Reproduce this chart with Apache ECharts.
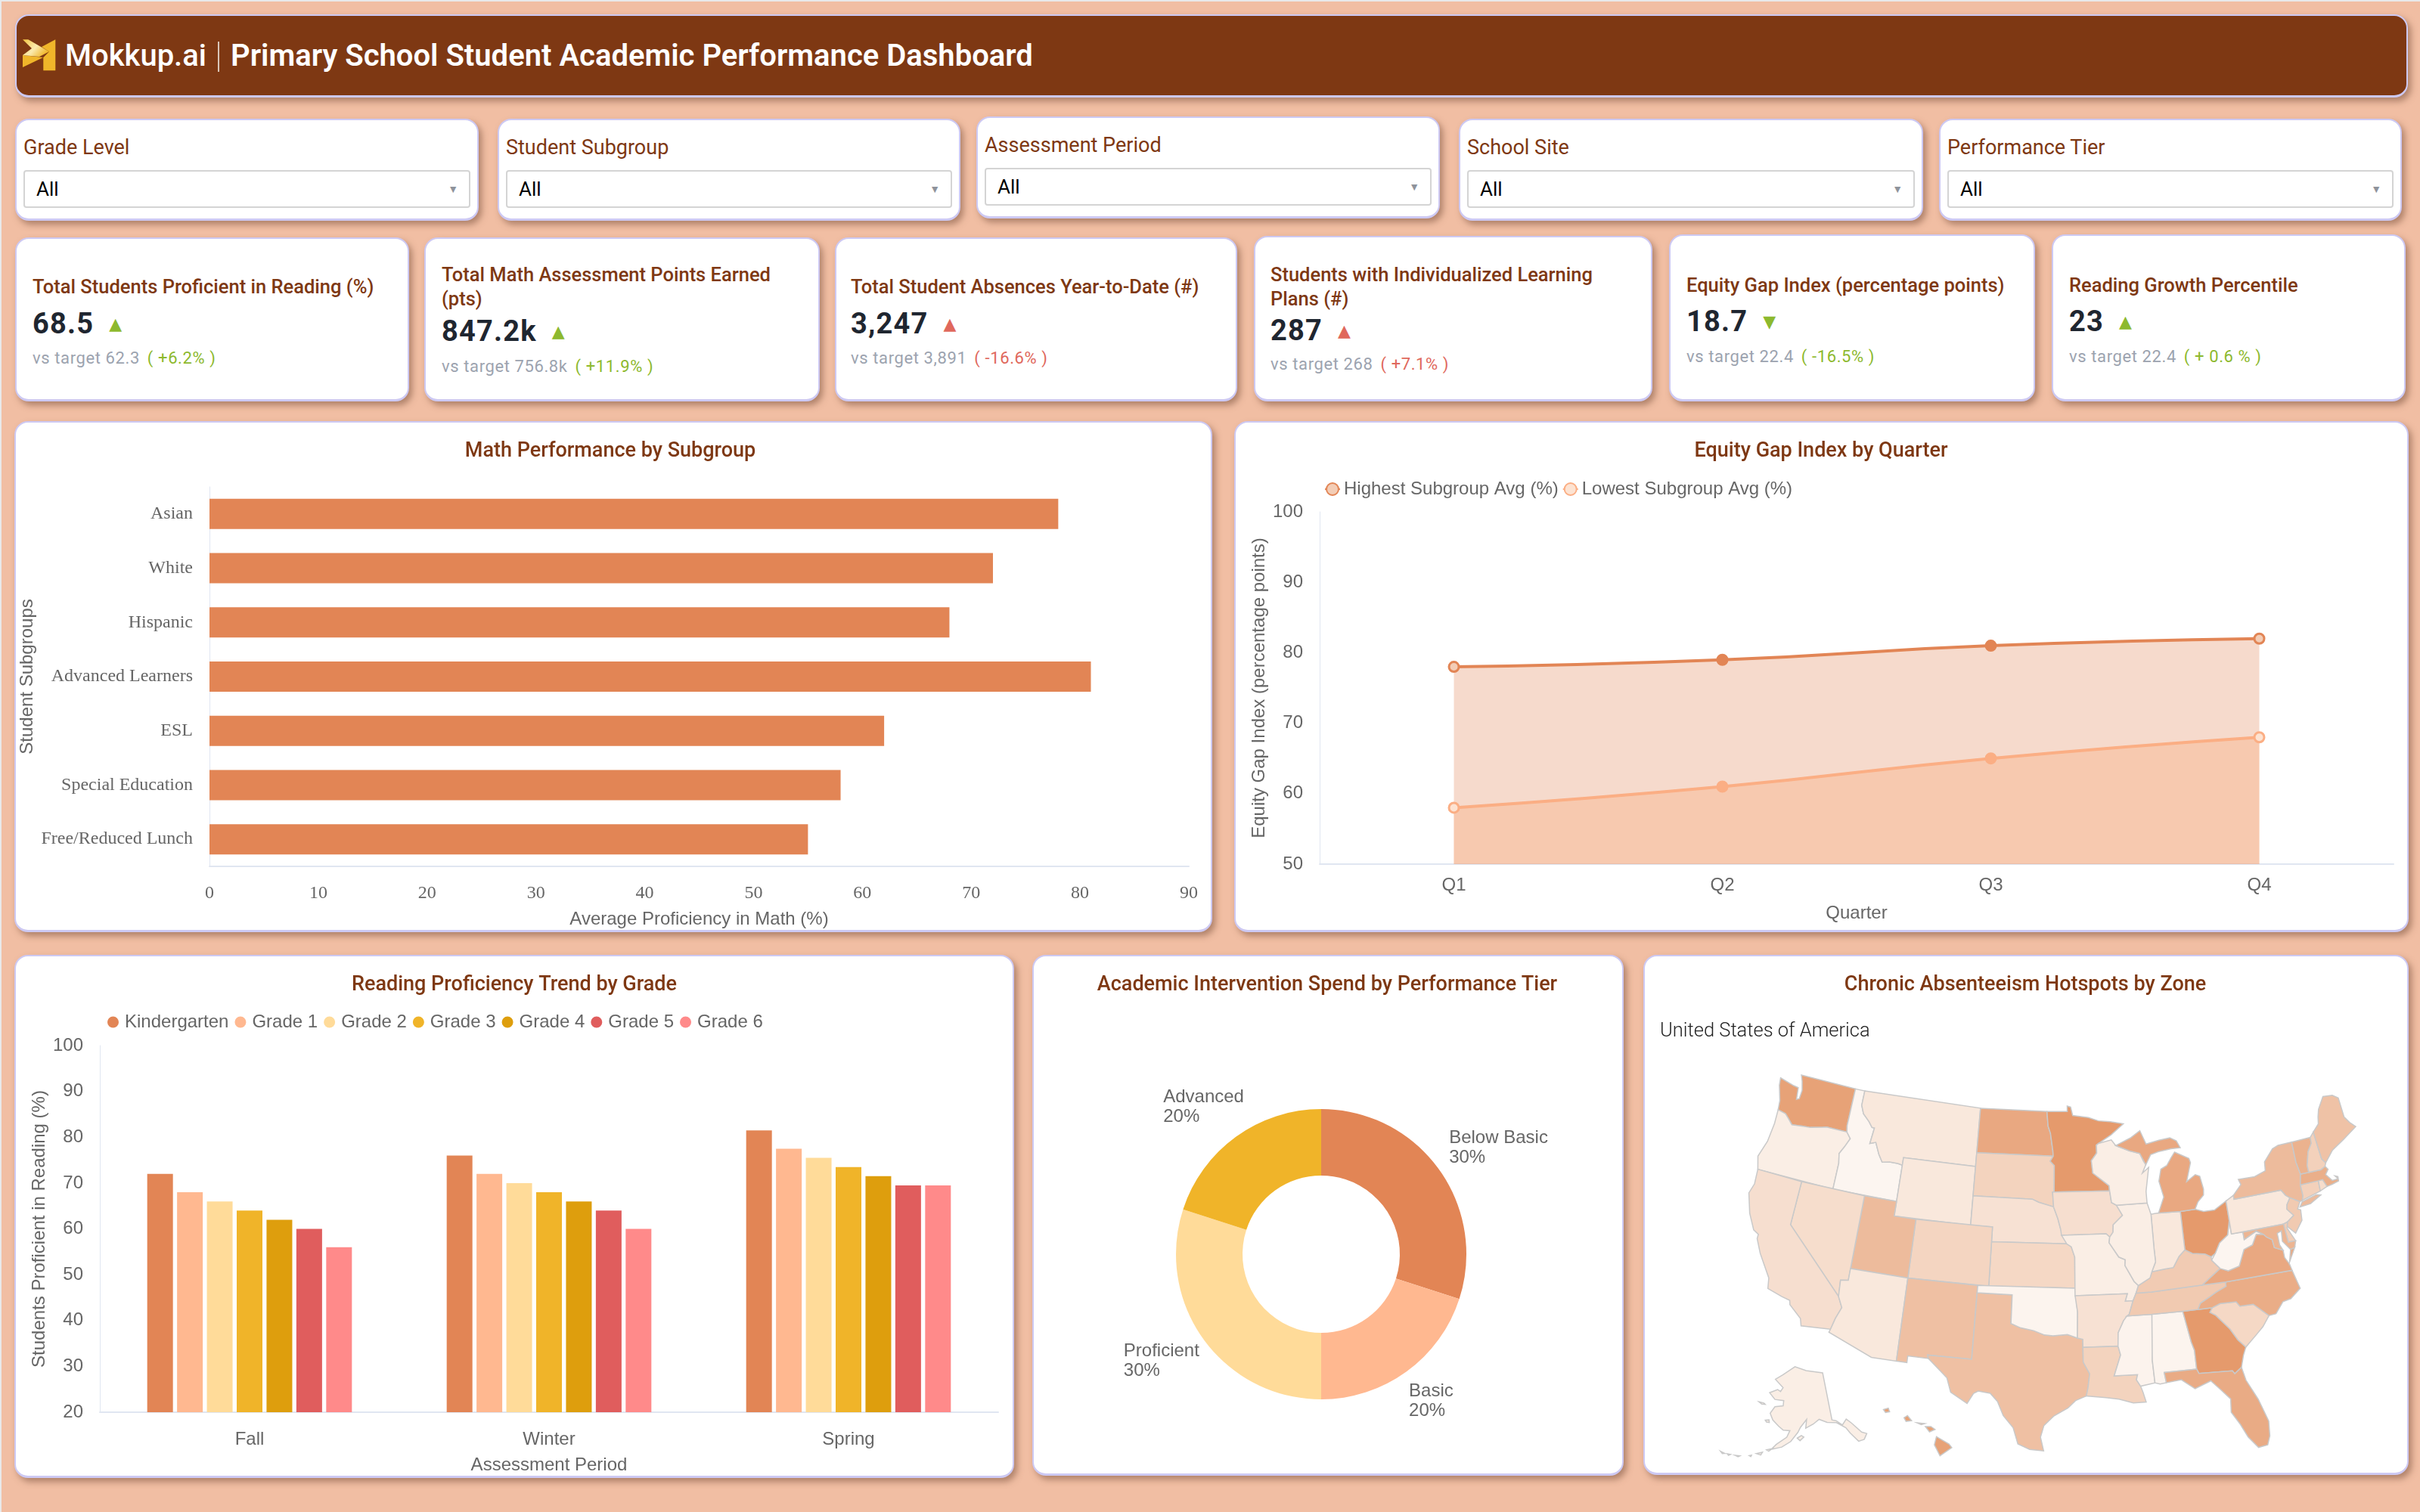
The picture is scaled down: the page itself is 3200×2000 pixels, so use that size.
<!DOCTYPE html>
<html>
<head>
<meta charset="utf-8">
<title>Primary School Student Academic Performance Dashboard</title>
<script src="https://cdn.jsdelivr.net/npm/echarts@6/dist/echarts.min.js"></script>
<style>
    html, body { margin: 0; padding: 0; }
    body { width: 3200px; height: 2000px; position: relative; overflow: hidden; background: #F1BEA3; box-shadow: inset 2px 2px 0 #E9E9E9; font-family: Roboto, Arial, sans-serif; }
    .card { position: absolute; box-sizing: border-box; background: #fff; border: 2px solid #CDC9F3; border-bottom-width: 3px; border-radius: 18px; box-shadow: 4px 5px 9px rgba(110, 70, 50, .5); }
    .chart { position: absolute; left: 0; top: 0; width: 100%; height: 100%; }
    #header { left: 20px; top: 19px; width: 3164px; height: 110px; background: #7E3813; }
    #logo { position: absolute; left: 8px; top: 31px; }
    #brand { position: absolute; left: 64px; top: 29px; font-size: 40px; line-height: 48px; font-weight: 500; color: #fff; }
    #divider { position: absolute; left: 266px; top: 34px; width: 2px; height: 40px; background: #D9C6B8; }
    #title { position: absolute; left: 283px; top: 29px; font-size: 40px; line-height: 48px; font-weight: 600; color: #fff; white-space: nowrap; }
    .filter-label { position: absolute; left: 9px; top: 19px; font-size: 27px; line-height: 34px; color: #7E3813; }
    .select { position: absolute; left: 9px; right: 9px; top: 66px; height: 50px; box-sizing: border-box; border: 2px solid #D4D4D4; border-radius: 4px; font-size: 26px; line-height: 46px; padding-left: 15px; color: #000; }
    .select i { position: absolute; right: 14px; top: 0; font-style: normal; font-size: 14px; color: #8E939B; }
    .kpi-title { position: absolute; font-size: 25.5px; line-height: 32px; font-weight: 500; color: #7E3813; }
    .kpi-value { position: absolute; font-size: 38px; line-height: 44px; font-weight: 700; letter-spacing: 1.2px; color: #1F2630; white-space: nowrap; }
    .kpi-value b { font-family: "DejaVu Sans"; font-size: 22px; font-weight: 400; letter-spacing: 0; margin-left: 20px; position: relative; top: -5px; }
    .kpi-target { position: absolute; font-size: 22px; line-height: 28px; letter-spacing: .6px; color: #9CA3AF; white-space: nowrap; }
    .kpi-target span { margin-left: 10px; font-weight: 400; }
    .good { color: #8DB92E; }
    .bad { color: #E0685C; }
    #map-name { position: absolute; left: 20px; top: 80px; font-size: 25.5px; line-height: 34px; font-weight: 300; color: #222; }
</style>
</head>
<body>
<div class="card" id="header">
    <svg id="logo" width="44" height="42" viewBox="0 0 44 42">
        <defs>
            <linearGradient id="logoShine" x1="0" y1="0" x2="1" y2="0.6">
                <stop offset="0" stop-color="#F2C33F"/>
                <stop offset="0.55" stop-color="#FBEBAF"/>
                <stop offset="1" stop-color="#F0B62A"/>
            </linearGradient>
        </defs>
        <polygon points="43.3,0.3 43.3,41.3 27.3,41.3 27.3,24 35,16.3 25,10" fill="#F0B62A"/>
        <polygon points="0,21 27,24 0,37" fill="#F0B62A"/>
        <polygon points="0,0.3 7.3,0.3 35,16.3 22,23 0,21 12,12" fill="url(#logoShine)"/>
    </svg>
    <div id="brand">Mokkup.ai</div>
    <div id="divider"></div>
    <div id="title">Primary School Student Academic Performance Dashboard</div>
</div>
<div id="filters"></div>
<div id="kpis"></div>
<div class="card" style="left:19px;top:557px;width:1584px;height:676px"><div class="chart" id="chart_math"></div></div>
<div class="card" style="left:1632px;top:557px;width:1553px;height:676px"><div class="chart" id="chart_equity"></div></div>
<div class="card" style="left:19px;top:1263px;width:1322px;height:692px"><div class="chart" id="chart_reading"></div></div>
<div class="card" style="left:1365px;top:1263px;width:782px;height:689px"><div class="chart" id="chart_spend"></div></div>
<div class="card" style="left:2173px;top:1263px;width:1012px;height:688px"><div class="chart" id="chart_map"></div><div id="map-name">United States of America</div></div>

<script>
// filters and kpi text
var filterNames = ['Grade Level', 'Student Subgroup', 'Assessment Period', 'School Site', 'Performance Tier'];
var kpiTitles = ['Total Students Proficient in Reading (%)', 'Total Math Assessment Points Earned (pts)', 'Total Student Absences Year-to-Date (#)',
    'Students with Individualized Learning Plans (#)', 'Equity Gap Index (percentage points)', 'Reading Growth Percentile'];
var kpiValues = ['68.5', '847.2k', '3,247', '287', '18.7', '23'];
var kpiArrows = ['▲', '▲', '▲', '▲', '▼', '▲'];
var kpiTargets = ['62.3', '756.8k', '3,891', '268', '22.4', '22.4'];
var kpiDeltas = ['( +6.2% )', '( +11.9% )', '( -16.6% )', '( +7.1% )', '( -16.5% )', '( + 0.6 % )'];
var kpiTones = ['good', 'good', 'bad', 'bad', 'good', 'good'];

// math chart
var subgroups = ['Asian', 'White', 'Hispanic', 'Advanced Learners', 'ESL', 'Special Education', 'Free/Reduced Lunch'];
var mathScores = [78, 72, 68, 81, 62, 58, 55];

// equity chart
var quarters = ['Q1', 'Q2', 'Q3', 'Q4'];
var highestAvg = [78, 79, 81, 82];
var lowestAvg = [58, 61, 65, 68];

// reading chart
var periods = ['Fall', 'Winter', 'Spring'];
var grades = ['Kindergarten', 'Grade 1', 'Grade 2', 'Grade 3', 'Grade 4', 'Grade 5', 'Grade 6'];
var readingScores = [
    [72, 76, 81.5],
    [68, 72, 77.5],
    [66, 70, 75.5],
    [64, 68, 73.5],
    [62, 66, 71.5],
    [60, 64, 69.5],
    [56, 60, 69.5]
];
var gradeColors = ['#E28555', '#FFB890', '#FFDB99', '#F0B429', '#DE9E0D', '#E05D5D', '#FF8A8A'];

// spend chart
var tiers = ['Below Basic', 'Basic', 'Proficient', 'Advanced'];
var tierSpend = [30, 20, 30, 20];

// map values, read from the shade of each state
var stateNames = ['Alabama', 'Alaska', 'Arizona', 'Arkansas', 'California', 'Colorado', 'Connecticut', 'Delaware', 'Florida', 'Georgia',
    'Hawaii', 'Idaho', 'Illinois', 'Indiana', 'Iowa', 'Kansas', 'Kentucky', 'Louisiana', 'Maine', 'Maryland',
    'Massachusetts', 'Michigan', 'Minnesota', 'Mississippi', 'Missouri', 'Montana', 'Nebraska', 'Nevada', 'New Hampshire', 'New Jersey',
    'New Mexico', 'New York', 'North Carolina', 'North Dakota', 'Ohio', 'Oklahoma', 'Oregon', 'Pennsylvania', 'Rhode Island', 'South Carolina',
    'South Dakota', 'Tennessee', 'Texas', 'Utah', 'Vermont', 'Virginia', 'Washington', 'West Virginia', 'Wisconsin', 'Wyoming'];
var stateValues = [5, 12, 18, 25, 28, 38, 42, 45, 82, 100,
    92, 4, 12, 18, 28, 35, 48, 40, 58, 72,
    78, 85, 100, 6, 12, 18, 25, 30, 42, 50,
    60, 65, 80, 85, 100, 5, 12, 18, 30, 35,
    40, 50, 60, 65, 75, 85, 92, 4, 12, 18];

// state outlines as lon/lat rings, simplified by hand
var stateShapes = {
    Washington: [[[-124.7,48.4],[-123.2,48.15],[-122.7,48.1],[-122.55,47.3],[-122.3,47.4],[-122.25,48],[-122.5,48.6],[-122.75,49],[-117.03,49],[-117.04,46.42],[-116.92,45.99],[-118.98,46],[-119.3,45.93],[-120.5,45.7],[-121.2,45.65],[-122.3,45.55],[-122.8,45.9],[-123.2,46.15],[-124,46.27],[-124.1,46.9],[-124.6,47.9]]],
    Oregon: [[[-124,46.27],[-123.2,46.15],[-122.8,45.9],[-122.3,45.55],[-121.2,45.65],[-120.5,45.7],[-119.3,45.93],[-118.98,46],[-116.92,45.99],[-116.46,45.6],[-116.85,44.95],[-117.2,44.45],[-117.03,43.8],[-117.03,42],[-124.2,42],[-124.55,42.85],[-124.1,44],[-123.95,45.3]]],
    Idaho: [[[-117.03,49],[-116.05,49],[-116.05,48],[-115.7,47.45],[-115,47],[-114.6,46.65],[-114.35,46.65],[-114.5,45.55],[-113.95,45.7],[-113.45,44.95],[-113,44.45],[-112.3,44.55],[-111.5,44.55],[-111.05,44.48],[-111.05,42],[-117.03,42],[-117.03,43.8],[-117.2,44.45],[-116.85,44.95],[-116.46,45.6],[-116.92,45.99],[-117.04,46.42]]],
    Montana: [[[-116.05,49],[-104.05,49],[-104.05,45],[-111.05,45],[-111.05,44.48],[-111.5,44.55],[-112.3,44.55],[-113,44.45],[-113.45,44.95],[-113.95,45.7],[-114.5,45.55],[-114.35,46.65],[-114.6,46.65],[-115,47],[-115.7,47.45],[-116.05,48]]],
    Wyoming: [[[-111.05,45],[-104.05,45],[-104.05,41],[-111.05,41]]],
    'North Dakota': [[[-104.05,49],[-97.23,49],[-97.1,48],[-96.85,47.5],[-96.6,46.3],[-96.56,45.94],[-104.05,45.94]]],
    'South Dakota': [[[-104.05,45.94],[-96.56,45.94],[-96.85,45.6],[-96.45,45.3],[-96.45,43.5],[-96.6,43.5],[-96.5,42.5],[-97.9,42.8],[-98.5,43],[-104.05,43]]],
    Nebraska: [[[-104.05,43],[-98.5,43],[-97.9,42.8],[-96.5,42.5],[-96.1,41.7],[-95.85,41],[-95.3,40],[-102.05,40],[-102.05,41],[-104.05,41]]],
    Kansas: [[[-102.05,40],[-95.3,40],[-94.9,39.8],[-94.6,39.1],[-94.62,37],[-102.05,37]]],
    Colorado: [[[-109.05,41],[-102.05,41],[-102.05,37],[-109.05,37]]],
    Utah: [[[-114.05,42],[-111.05,42],[-111.05,41],[-109.05,41],[-109.05,37],[-114.05,37]]],
    Nevada: [[[-120,42],[-114.05,42],[-114.05,36.2],[-114.7,36.1],[-114.6,35],[-120,39]]],
    California: [[[-124.2,42],[-120,42],[-120,39],[-114.6,35],[-114.15,34.3],[-114.5,33.5],[-114.72,32.72],[-117.12,32.53],[-117.3,33],[-118.4,33.75],[-118.5,34.03],[-119.2,34.15],[-120.5,34.45],[-120.65,35.15],[-121.9,36.6],[-122.5,37.5],[-122.5,37.8],[-123,38],[-123.75,39],[-124.35,40.3],[-124.1,41]]],
    Arizona: [[[-114.05,37],[-109.05,37],[-109.05,31.33],[-111.07,31.33],[-114.8,32.5],[-114.72,32.72],[-114.5,33.5],[-114.15,34.3],[-114.6,35],[-114.7,36.1],[-114.05,36.2]]],
    'New Mexico': [[[-109.05,37],[-103,37],[-103.05,32],[-106.62,32],[-106.53,31.78],[-108.2,31.78],[-108.2,31.33],[-109.05,31.33]]],
    Texas: [[[-103,36.5],[-100,36.5],[-100,34.56],[-99.2,34.3],[-98.1,34.13],[-97.2,33.85],[-96.5,33.8],[-95.3,33.88],[-94.48,33.64],[-94.04,33.55],[-94.04,33],[-94.04,32],[-93.55,31.2],[-93.7,30.3],[-93.85,29.7],[-94.7,29.4],[-95.3,28.9],[-96.4,28.35],[-97.15,27.7],[-97.4,26.9],[-97.15,25.96],[-98.2,26.05],[-99.1,26.4],[-99.5,27.5],[-100.3,28.3],[-100.8,29.25],[-101.4,29.77],[-102.35,29.87],[-102.7,29.7],[-103.15,28.98],[-104.5,29.65],[-104.9,30.6],[-106.53,31.78],[-106.62,32],[-103.05,32]]],
    Oklahoma: [[[-103,37],[-94.62,37],[-94.43,35.4],[-94.48,33.64],[-95.3,33.88],[-96.5,33.8],[-97.2,33.85],[-98.1,34.13],[-99.2,34.3],[-100,34.56],[-100,36.5],[-103,36.5]]],
    Minnesota: [[[-97.23,49],[-95.15,49],[-95.15,49.38],[-94.8,49.3],[-94.6,48.72],[-93,48.55],[-92,48.3],[-90.8,48.2],[-89.5,48],[-90.8,47.3],[-92.1,46.75],[-92.3,46.65],[-92.3,46.1],[-92.85,45.6],[-92.75,44.75],[-91.25,43.85],[-91.22,43.5],[-96.45,43.5],[-96.45,45.3],[-96.85,45.6],[-96.56,45.94],[-96.6,46.3],[-96.85,47.5],[-97.1,48]]],
    Iowa: [[[-96.45,43.5],[-91.22,43.5],[-91.1,42.7],[-90.65,42.5],[-90.15,41.8],[-91.05,41.2],[-91.1,40.7],[-91.42,40.38],[-91.73,40.61],[-95.77,40.58],[-95.85,41],[-96.1,41.7],[-96.5,42.5],[-96.6,43.5]]],
    Missouri: [[[-95.77,40.58],[-91.73,40.61],[-91.42,40.38],[-91.5,40],[-90.7,39],[-90.15,38.8],[-90.2,38.4],[-89.5,37.3],[-89.15,37],[-89.4,36.5],[-89.7,36],[-90.37,36],[-90.15,36.5],[-94.62,36.5],[-94.62,37],[-94.6,39.1],[-94.9,39.8],[-95.3,40]]],
    Arkansas: [[[-94.62,36.5],[-90.15,36.5],[-90.37,36],[-89.7,36],[-90.1,35.1],[-90.6,34.7],[-91.1,33.9],[-91.17,33],[-94.04,33],[-94.04,33.55],[-94.48,33.64],[-94.43,35.4]]],
    Louisiana: [[[-94.04,33],[-91.17,33],[-91,32.4],[-91.6,31],[-89.73,31],[-89.85,30.65],[-89.55,30.2],[-89.4,29.8],[-89.2,29.1],[-90.2,29.1],[-91.3,29.4],[-92.3,29.55],[-93.85,29.7],[-93.7,30.3],[-93.55,31.2],[-94.04,32]]],
    Mississippi: [[[-91.17,33],[-91.1,33.9],[-90.6,34.7],[-90.3,35],[-88.2,35],[-88.1,34.9],[-88.47,31.9],[-88.4,30.35],[-89.55,30.2],[-89.85,30.65],[-89.73,31],[-91.6,31],[-91,32.4]]],
    Alabama: [[[-88.2,35],[-85.6,35],[-85.18,32.87],[-85,32.3],[-85,31],[-87.6,31],[-87.5,30.3],[-88,30.25],[-88.4,30.35],[-88.47,31.9]]],
    Georgia: [[[-85.6,35],[-83.1,35],[-83.35,34.7],[-82.9,34.45],[-81.9,33.4],[-81.4,32.6],[-80.85,32.03],[-81.15,31.5],[-81.45,30.72],[-82.05,30.36],[-82.2,30.57],[-84.86,30.7],[-85,31],[-85,32.3],[-85.18,32.87]]],
    Florida: [[[-87.6,31],[-85,31],[-84.86,30.7],[-82.2,30.57],[-82.05,30.36],[-81.45,30.72],[-81.25,29.8],[-80.55,28.4],[-80.03,26.8],[-80.13,25.8],[-80.4,25.2],[-81.1,25.13],[-81.75,25.95],[-82.2,26.9],[-82.75,27.8],[-82.65,28.7],[-83.4,29.5],[-84,30.1],[-85.3,29.7],[-86.3,30.4],[-87.5,30.3]]],
    'South Carolina': [[[-83.35,34.7],[-83.1,35],[-82.4,35.2],[-81.05,35.15],[-80.8,34.82],[-79.67,34.8],[-78.55,33.86],[-79.2,33.2],[-79.9,32.7],[-80.85,32.03],[-81.4,32.6],[-81.9,33.4],[-82.9,34.45]]],
    'North Carolina': [[[-84.32,35],[-83.1,35],[-82.4,35.2],[-81.05,35.15],[-80.8,34.82],[-79.67,34.8],[-78.55,33.86],[-77.95,33.9],[-77.2,34.6],[-76.5,34.7],[-75.55,35.25],[-75.9,36.55],[-81.68,36.59],[-81.7,36.3],[-82.6,36],[-83.2,35.75],[-84.05,35.4]]],
    Tennessee: [[[-90.3,35],[-88.2,35],[-85.6,35],[-84.32,35],[-84.05,35.4],[-83.2,35.75],[-82.6,36],[-81.7,36.3],[-81.68,36.59],[-83.68,36.6],[-88.07,36.5],[-89.4,36.5],[-89.7,36],[-90.1,35.1]]],
    Kentucky: [[[-89.4,36.5],[-88.07,36.5],[-83.68,36.6],[-81.97,37.54],[-82.6,38.17],[-82.6,38.4],[-83.1,38.65],[-84.2,38.8],[-84.82,39.1],[-85.4,38.7],[-86,38],[-86.8,37.95],[-87.9,37.85],[-88.1,37.45],[-89.15,37]]],
    Virginia: [[[-83.68,36.6],[-81.68,36.59],[-75.9,36.55],[-76,37],[-76.3,37.5],[-76.3,38],[-77,38.3],[-77.05,38.85],[-77.5,39.1],[-77.72,39.32],[-78.35,39.4],[-78.85,38.75],[-79.65,38.55],[-80.3,37.5],[-81.3,37.3],[-81.97,37.54]], [[-75.95,37.15],[-75.25,38.03],[-75.65,37.95]]],
    'West Virginia': [[[-81.97,37.54],[-81.3,37.3],[-80.3,37.5],[-79.65,38.55],[-78.85,38.75],[-78.35,39.4],[-77.72,39.32],[-78.3,39.62],[-79.48,39.2],[-79.48,39.72],[-80.52,39.72],[-80.52,40.64],[-80.87,39.7],[-81.7,39.25],[-82.2,38.6],[-82.6,38.17]]],
    Ohio: [[[-84.82,41.7],[-83.45,41.73],[-82.7,41.5],[-81.7,41.5],[-80.52,41.98],[-80.52,40.64],[-80.87,39.7],[-81.7,39.25],[-82.2,38.6],[-82.6,38.4],[-83.1,38.65],[-84.2,38.8],[-84.82,39.1]]],
    Indiana: [[[-87.53,41.72],[-87.2,41.75],[-86.82,41.76],[-84.82,41.7],[-84.82,39.1],[-85.4,38.7],[-86,38],[-86.8,37.95],[-87.9,37.85],[-87.5,38.5],[-87.53,39.35]]],
    Illinois: [[[-90.65,42.5],[-87.8,42.5],[-87.53,41.72],[-87.53,39.35],[-87.5,38.5],[-87.9,37.85],[-88.1,37.45],[-89.15,37],[-89.5,37.3],[-90.2,38.4],[-90.15,38.8],[-90.7,39],[-91.5,40],[-91.42,40.38],[-91.1,40.7],[-91.05,41.2],[-90.15,41.8]]],
    Wisconsin: [[[-92.1,46.75],[-90.8,46.95],[-90.4,46.55],[-89.1,46.13],[-88.1,45.9],[-87.8,45.35],[-87.6,45.1],[-88,44.55],[-87.35,44.9],[-87.55,44.2],[-87.8,43.3],[-87.8,42.5],[-90.65,42.5],[-91.1,42.7],[-91.22,43.5],[-91.25,43.85],[-92.75,44.75],[-92.85,45.6],[-92.3,46.1],[-92.3,46.65]]],
    Michigan: [[[-86.82,41.76],[-84.82,41.7],[-83.45,41.73],[-83.1,42.2],[-82.5,42.6],[-82.42,43],[-82.6,43.9],[-83,44.05],[-83.9,43.65],[-83.3,44.9],[-83.4,45.2],[-84.7,45.75],[-85.1,45.4],[-85.6,44.9],[-86.2,44.7],[-86.5,43.9],[-86.2,42.8]],
        [[-90.4,46.55],[-89.1,46.13],[-88.1,45.9],[-87.6,45.1],[-87.05,45.75],[-86.3,45.9],[-85,46],[-84.1,46],[-84.4,46.5],[-85,46.75],[-86.1,46.67],[-87.4,46.5],[-87.9,47.45],[-88.9,47],[-90.4,46.55]]],
    Pennsylvania: [[[-80.52,41.98],[-79.76,42.27],[-79.76,42],[-75.35,42],[-75.05,41.6],[-74.7,41.36],[-75.1,40.95],[-75.2,40.65],[-74.72,40.15],[-75.4,39.8],[-75.79,39.72],[-80.52,39.72]]],
    'New York': [[[-79.76,42.27],[-78.9,42.9],[-79.05,43.27],[-77.5,43.25],[-76.4,43.5],[-76.3,44.1],[-75.3,44.85],[-74.7,45],[-73.35,45],[-73.4,43.6],[-73.25,42.75],[-73.5,42.05],[-73.5,41.3],[-73.65,41],[-73.9,40.95],[-74.7,41.36],[-75.05,41.6],[-75.35,42],[-79.76,42]], [[-74,40.6],[-73.7,40.9],[-72.3,41.15],[-71.9,41.05],[-73,40.65]]],
    'New Jersey': [[[-74.7,41.36],[-73.9,40.95],[-74.25,40.5],[-74,40.4],[-74.1,39.7],[-74.9,38.95],[-75.5,39.5],[-75.4,39.8],[-74.72,40.15],[-75.2,40.65],[-75.1,40.95]]],
    Delaware: [[[-75.79,39.72],[-75.4,39.8],[-75.55,39.4],[-75.05,38.45],[-75.7,38.46]]],
    Maryland: [[[-79.48,39.72],[-75.79,39.72],[-75.7,38.46],[-75.05,38.45],[-75.25,38.03],[-75.65,37.95],[-76.2,38.6],[-76.1,39.3],[-76.5,39.2],[-76.5,38.4],[-76.3,38],[-77,38.3],[-77.05,38.85],[-77.5,39.1],[-77.72,39.32],[-78.3,39.62],[-79.48,39.2]]],
    Connecticut: [[[-73.5,42.05],[-71.8,42.02],[-71.85,41.32],[-73.65,41],[-73.5,41.3]]],
    'Rhode Island': [[[-71.8,42.02],[-71.38,42.02],[-71.15,41.5],[-71.85,41.32]]],
    Massachusetts: [[[-73.5,42.05],[-73.25,42.75],[-71.3,42.7],[-70.85,42.85],[-70.65,42.6],[-71,42.3],[-70.55,41.8],[-70,41.8],[-70.2,42.05],[-69.95,41.95],[-70,41.65],[-70.65,41.55],[-71.15,41.5],[-71.38,42.02],[-71.8,42.02]]],
    Vermont: [[[-73.35,45],[-71.5,45],[-71.55,44.6],[-72.05,44.1],[-72.45,43.2],[-72.46,42.73],[-73.25,42.75],[-73.4,43.6]]],
    'New Hampshire': [[[-71.5,45],[-71.08,45.3],[-70.98,43.4],[-70.7,43.07],[-70.85,42.85],[-71.3,42.7],[-72.46,42.73],[-72.45,43.2],[-72.05,44.1],[-71.55,44.6]]],
    Maine: [[[-71.08,45.3],[-70.4,45.75],[-70.25,46.2],[-70,46.7],[-69.23,47.46],[-68.3,47.36],[-67.8,47.07],[-67.8,45.7],[-67.45,45.25],[-67,44.85],[-68.5,44.25],[-69.8,43.75],[-70.7,43.07],[-70.98,43.4]]],
    Alaska: [[[-141,69.65],[-141,60.3],[-139.5,60],[-137.5,58.9],[-135.5,59.8],[-134,58.8],[-131.5,56.5],[-130,55.9],[-131.5,55],[-133.5,55],[-135.5,57],[-136.5,58.2],[-139.5,59.6],[-143,60],[-146,60.8],[-148.5,60],[-151.5,59.3],[-151,61],[-153.5,59.5],[-154.5,58.5],[-157,56.7],[-160,55.5],[-163.5,54.8],[-162,55.9],[-158.5,57.5],[-157.5,58.8],[-160,58.8],[-162,59.5],[-164.5,60.5],[-166,61.7],[-164.5,63.1],[-161,63.5],[-161,64.5],[-165,64.5],[-168,65.6],[-164.5,66.5],[-163,66.2],[-162,67],[-166.5,68.4],[-163,69.5],[-156.5,71.3],[-150,70.5]],
        [[-154.7,57.4],[-153.2,57.9],[-152.3,57.6],[-153.7,56.9]], [[-171.7,63.4],[-169.5,63.4],[-168.8,63.2],[-170.3,63.1]], [[-167.4,60.2],[-166,60.4],[-165.7,59.9],[-166.8,59.9]],
        [[-168.1,53.5],[-166.2,54],[-166.6,53.4]], [[-165,54.6],[-163.2,55],[-164.2,54.4]], [[-170.2,52.8],[-169.5,53],[-169.6,52.7]], [[-174.6,52.1],[-173,52.3],[-173.5,52]], [[-177,51.9],[-176,52],[-176.5,51.7]], [[-179.3,51.9],[-177.8,51.8],[-178.5,51.6]]],
    Hawaii: [[[-155.9,20.25],[-155,19.75],[-154.8,19.5],[-155.65,18.95],[-156.05,19.7]], [[-156.7,20.95],[-156.3,20.95],[-156,20.75],[-156.4,20.58]], [[-158.25,21.55],[-158,21.7],[-157.7,21.35],[-158.1,21.3]], [[-159.75,22.1],[-159.4,22.2],[-159.3,21.95],[-159.6,21.9]], [[-157.3,21.2],[-156.75,21.15],[-157,21.08]]]
};

// composite projection, same idea as albers usa with the two insets
function makeAlbers(lon0, p1, p2, centerLon, centerLat, scale, tx, ty) {
    var rad = Math.PI / 180;
    var n = (Math.sin(p1 * rad) + Math.sin(p2 * rad)) / 2;
    var c = Math.cos(p1 * rad) * Math.cos(p1 * rad) + 2 * n * Math.sin(p1 * rad);
    var raw = function (lon, lat) {
        var rho = Math.sqrt(c - 2 * n * Math.sin(lat * rad)) / n;
        var theta = n * (lon - lon0) * rad;
        return [rho * Math.sin(theta), rho * Math.cos(theta)];
    };
    var origin = raw(centerLon, centerLat);
    return function (lon, lat) {
        var p = raw(lon, lat);
        return [tx + scale * (p[0] - origin[0]), ty + scale * (p[1] - origin[1])];
    };
}
var K = 1076;
var X_STRETCH = 1.037; // the reference map is a little wider than plain albers
var lower48 = makeAlbers(-96, 29.5, 45.5, -96.6, 38.7, K, 0, 0);
var alaska = makeAlbers(-154, 55, 65, -156, 58.5, 0.35 * K, -0.307 * K, 0.201 * K);
var hawaii = makeAlbers(-157, 8, 18, -160, 19.9, K, -0.205 * K, 0.212 * K);
var usaProjection = {
    project: function (p) {
        var q;
        if (p[1] > 50) q = alaska(p[0], p[1]);
        else if (p[1] < 23 && p[0] < -150) q = hawaii(p[0], p[1]);
        else q = lower48(p[0], p[1]);
        return [q[0] * X_STRETCH, q[1]];
    },
    unproject: function (p) {
        return [-96.6 + p[0] / 11, 38.7 - p[1] / 18];
    }
};

// build the html parts
var filterLayout = [[20, 157, 613], [658, 157, 612], [1291, 154, 613], [1929, 157, 614], [2564, 157, 612]];
document.getElementById('filters').innerHTML = filterNames.map(function (name, i) {
    var box = filterLayout[i];
    return '<div class="card" style="left:' + box[0] + 'px;top:' + box[1] + 'px;width:' + box[2] + 'px;height:135px">' +
        '<div class="filter-label">' + name + '</div><div class="select">All<i>▼</i></div></div>';
}).join('');

// left, top, width, height, text left, title y, value y, target y
var kpiLayout = [
    [20, 314, 521, 217, 21, 47, 90, 144],
    [561, 314, 523, 217, 21, 31, 100, 155],
    [1104, 314, 532, 217, 19, 47, 90, 144],
    [1658, 312, 527, 219, 20, 33, 101, 154],
    [2207, 310, 484, 221, 21, 49, 91, 146],
    [2713, 310, 468, 221, 21, 49, 91, 146]
];
document.getElementById('kpis').innerHTML = kpiTitles.map(function (name, i) {
    var b = kpiLayout[i];
    var w = b[2] - b[4] * 2;
    return '<div class="card" style="left:' + b[0] + 'px;top:' + b[1] + 'px;width:' + b[2] + 'px;height:' + b[3] + 'px">' +
        '<div class="kpi-title" style="left:' + b[4] + 'px;top:' + b[5] + 'px;width:' + w + 'px">' + name + '</div>' +
        '<div class="kpi-value" style="left:' + b[4] + 'px;top:' + b[6] + 'px">' + kpiValues[i] + '<b class="' + kpiTones[i] + '">' + kpiArrows[i] + '</b></div>' +
        '<div class="kpi-target" style="left:' + b[4] + 'px;top:' + b[7] + 'px">vs target ' + kpiTargets[i] + '<span class="' + kpiTones[i] + '">' + kpiDeltas[i] + '</span></div>' +
        '</div>';
}).join('');

// charts
var SANS = '"Liberation Sans", Arial, sans-serif';
var SERIF = '"Liberation Serif", "Times New Roman", serif';
var TEXT = '#666';

function chartTitle(text, left) {
    return {
        text: text, left: left, textAlign: 'center', top: 20,
        textStyle: {fontFamily: 'Roboto', fontSize: 27, fontWeight: 500, color: '#7E3813'}
    };
}
function nameStyle() {
    return {fontFamily: SANS, fontSize: 24, color: TEXT};
}
function legendBase(left, top, data) {
    return {
        left: left, top: top, data: data, itemWidth: 21, itemHeight: 15, itemGap: 8,
        textStyle: {fontFamily: SANS, fontSize: 24, color: TEXT}
    };
}
var softLine = {show: true, lineStyle: {color: '#E0E6F1', width: 1}};
var baseLine = {show: true, lineStyle: {color: '#E0E6F1', width: 2}};

var mathChart = echarts.init(document.getElementById('chart_math'));
mathChart.setOption({
    animation: false,
    title: chartTitle('Math Performance by Subgroup', 781),
    grid: {left: 256, top: 85, width: 1295, height: 502, outerBoundsMode: 'none'},
    xAxis: {
        type: 'value', min: 0, max: 90, interval: 10, position: 'bottom',
        name: 'Average Proficiency in Math (%)', nameLocation: 'middle', nameGap: 58, nameTextStyle: nameStyle(),
        axisLine: baseLine, axisTick: {show: false}, splitLine: {show: false},
        axisLabel: {fontFamily: SERIF, fontSize: 24, color: TEXT, margin: 24}
    },
    yAxis: {
        type: 'category', data: subgroups, inverse: true,
        name: 'Student Subgroups', nameLocation: 'middle', nameGap: 229, nameMoveOverlap: false, nameTextStyle: nameStyle(),
        axisLine: softLine, axisTick: {show: false},
        axisLabel: {fontFamily: SERIF, fontSize: 24, color: TEXT, margin: 22}
    },
    series: [{type: 'bar', data: mathScores, barWidth: 40, itemStyle: {color: '#E28555'}}]
});

// the inner points are solid in the picture, the end points keep the pale centre
function solidInner(values, hue) {
    return values.map(function (v, i) {
        var inner = i > 0 && i < values.length - 1;
        return inner ? {value: v, itemStyle: {color: hue}} : v;
    });
}
var equityChart = echarts.init(document.getElementById('chart_equity'));
equityChart.setOption({
    animation: false,
    title: chartTitle('Equity Gap Index by Quarter', 769),
    legend: Object.assign(legendBase(112, 71, ['Highest Subgroup Avg (%)', 'Lowest Subgroup Avg (%)']), {itemWidth: 20, itemHeight: 20, itemGap: 5}),
    grid: {left: 111, top: 118, width: 1420, height: 466, outerBoundsMode: 'none'},
    xAxis: {
        type: 'category', data: quarters,
        name: 'Quarter', nameLocation: 'middle', nameGap: 53, nameTextStyle: nameStyle(),
        axisLine: baseLine, axisTick: {show: false},
        axisLabel: {fontFamily: SANS, fontSize: 24, color: TEXT, margin: 16}
    },
    yAxis: {
        type: 'value', min: 50, max: 100, interval: 10,
        name: 'Equity Gap Index (percentage points)', nameLocation: 'middle', nameGap: 68, nameMoveOverlap: false, nameTextStyle: nameStyle(),
        axisLine: softLine, axisTick: {show: false}, splitLine: {show: false},
        axisLabel: {fontFamily: SANS, fontSize: 24, color: TEXT, margin: 22}
    },
    series: [
        {name: 'Highest Subgroup Avg (%)', type: 'line', data: solidInner(highestAvg, '#E28555'), smooth: true, symbol: 'circle', symbolSize: 13,
            itemStyle: {color: '#F3CDB6', borderColor: '#E28555', borderWidth: 3}, lineStyle: {width: 4, color: '#E28555'}, areaStyle: {color: '#E28555', opacity: 0.3}},
        {name: 'Lowest Subgroup Avg (%)', type: 'line', data: solidInner(lowestAvg, '#FBAE84'), smooth: true, symbol: 'circle', symbolSize: 13,
            itemStyle: {color: '#FDE3D2', borderColor: '#FBAE84', borderWidth: 3}, lineStyle: {width: 4, color: '#FBAE84'}, areaStyle: {color: '#FBAE84', opacity: 0.4}}
    ]
});

var readingChart = echarts.init(document.getElementById('chart_reading'));
readingChart.setOption({
    animation: false,
    title: chartTitle('Reading Proficiency Trend by Grade', 654),
    color: gradeColors,
    legend: Object.assign(legendBase(116, 70, grades), {icon: 'circle'}),
    grid: {left: 111, top: 118, width: 1188, height: 485, outerBoundsMode: 'none'},
    xAxis: {
        type: 'category', data: periods,
        name: 'Assessment Period', nameLocation: 'middle', nameGap: 58, nameTextStyle: nameStyle(),
        axisLine: baseLine, axisTick: {show: false},
        axisLabel: {fontFamily: SANS, fontSize: 24, color: TEXT, margin: 24}
    },
    yAxis: {
        type: 'value', min: 20, max: 100, interval: 10,
        name: 'Students Proficient in Reading (%)', nameLocation: 'middle', nameGap: 68, nameMoveOverlap: false, nameTextStyle: nameStyle(),
        axisLine: softLine, axisTick: {show: false}, splitLine: {show: false},
        axisLabel: {fontFamily: SANS, fontSize: 24, color: TEXT, margin: 22}
    },
    series: grades.map(function (grade, i) {
        return {name: grade, type: 'bar', data: readingScores[i], barWidth: 34, barGap: '16%'};
    })
});

var spendChart = echarts.init(document.getElementById('chart_spend'));
spendChart.setOption({
    animation: false,
    title: chartTitle('Academic Intervention Spend by Performance Tier', 383),
    color: ['#E28555', '#FFB890', '#FFDB99', '#F0B429'],
    series: [{
        type: 'pie', center: [380, 394], radius: [104, 192], startAngle: 90, clockwise: true,
        avoidLabelOverlap: false,
        data: tiers.map(function (tier, i) {
            return {name: tier, value: tierSpend[i]};
        }),
        label: {formatter: '{b}\n{d}%', fontFamily: SANS, fontSize: 24, lineHeight: 26, color: TEXT},
        labelLine: {show: false, length: 48, length2: -30},
        labelLayout: function (p) {
            // left side labels sit a bit closer to the ring
            return {x: p.labelRect.x + (p.dataIndex >= 2 ? (p.dataIndex === 3 ? 14 : 8) : 0), align: 'left'};
        }
    }]
});

echarts.registerMap('USA', {
    type: 'FeatureCollection',
    features: Object.keys(stateShapes).map(function (name) {
        return {
            type: 'Feature', properties: {name: name},
            geometry: {
                type: 'MultiPolygon',
                coordinates: stateShapes[name].map(function (ring) {
                    return [ring.concat([ring[0]])];
                })
            }
        };
    })
});
var mapChart = echarts.init(document.getElementById('chart_map'));
mapChart.setOption({
    animation: false,
    title: chartTitle('Chronic Absenteeism Hotspots by Zone', 498),
    visualMap: {show: false, min: 0, max: 100, inRange: {color: ['#FDF9F5', '#E59A6C']}},
    series: [{
        type: 'map', map: 'USA', projection: usaProjection, roam: false, silent: true,
        left: 100, top: 157, width: 840, height: 505,
        label: {show: false},
        itemStyle: {borderColor: '#C9C9C9', borderWidth: 1.5},
        data: stateNames.map(function (name, i) {
            return {name: name, value: stateValues[i]};
        })
    }]
});
</script>
</body>
</html>
